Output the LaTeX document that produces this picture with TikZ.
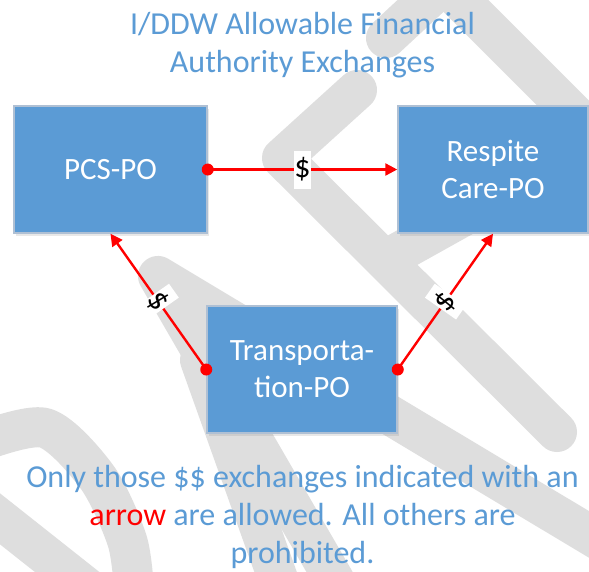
\documentclass[tikz,border=0pt]{standalone}
\usepackage{fontspec}
\setmainfont{Carlito}
\usetikzlibrary{arrows.meta,shadows}
\definecolor{wmgray}{RGB}{222,222,222}
\definecolor{boxblue}{RGB}{91,155,213}
\definecolor{boxedge}{RGB}{175,192,212}
\definecolor{txtblue}{RGB}{91,155,213}
\definecolor{arrowred}{RGB}{255,0,0}
\begin{document}
\begin{tikzpicture}[x=1pt,y=-1pt,
  wm/.style={draw=wmgray, line width=40pt, line cap=round, line join=round},
  pobox/.style={rectangle, fill=boxblue, draw=boxedge, line width=1.5pt,
    text=white, font=\fontsize{31}{37}\selectfont, align=center, inner sep=0pt,
    minimum height=127pt,
    drop shadow={shadow xshift=2pt, shadow yshift=-3pt, opacity=0.18, fill=gray}},
  money/.style={draw=arrowred, line width=2.4pt, -{Triangle[length=12pt,width=12pt]}},
  reddot/.style={circle, fill=arrowred, inner sep=0pt, minimum size=12pt},
  dollar/.style={fill=white, text=black, font=\fontsize{32}{34}\selectfont,
    inner sep=0pt, minimum height=38pt, minimum width=17pt, sloped},
  bluetext/.style={text=txtblue, font=\fontsize{32}{38}\selectfont, align=center, inner sep=0pt}
]
\useasboundingbox (0,0) rectangle (589,571);
\clip (0,0) rectangle (589,571);
\fill[white] (0,0) rectangle (589,571);

% watermark strokes
\draw[wm] (386,38) -- (470,-40);
\draw[wm] (455,-5) -- (650,190);
\draw[wm] (357,90) -- (282,158) -- (557,432);
\draw[wm] (385,260) -- (480,207);
\draw[wm] (340,590) -- (158,276) -- (600,541);
\draw[wm] (200,360) -- (282,590);
\draw[wm] plot[smooth] coordinates {(-20,442) (45,428) (97,477) (127,540) (134,590)};
\draw[wm] (-20,503) -- (100,598);

% title
\node[bluetext, anchor=base] (title) at (302.5,72) {I/DDW Allowable Financial\\Authority Exchanges};

% boxes
\node[pobox, minimum width=193pt] (pcs) at (110.5,169.5) {PCS-PO};
\node[pobox, minimum width=190pt] (resp) at (493,169.5) {Respite\\Care-PO};
\node[pobox, minimum width=190pt] (tr) at (302,369.5) {Transporta-\\tion-PO};

% connectors
\draw[money] (pcs.east) -- node[dollar] (l1) {\$} (resp.west);
\draw[money] (tr.west) -- node[dollar] (l2) {\$} (pcs.south);
\draw[money] (tr.east) -- node[dollar] (l3) {\$} (resp.south);
\node[reddot] (d1) at (pcs.east) {};
\node[reddot] (d2) at (tr.west) {};
\node[reddot] (d3) at (tr.east) {};

% note
\node[bluetext, anchor=base] (note) at (302.5,563) {Only those \$\$ exchanges indicated with an\\\textcolor{arrowred}{arrow} are allowed.  All others are\\prohibited.};
\end{tikzpicture}
\end{document}
